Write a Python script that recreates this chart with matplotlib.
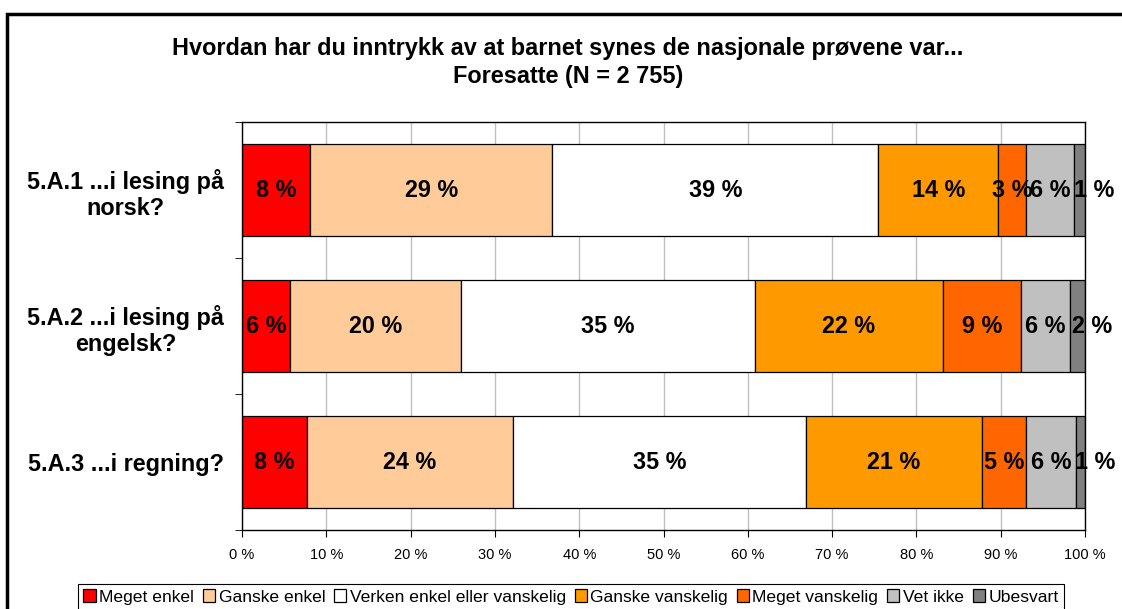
import numpy as np
import matplotlib
matplotlib.use("Agg")
import matplotlib.pyplot as plt
from matplotlib.patches import Rectangle

plt.rcParams['font.family'] = ['Liberation Sans', 'DejaVu Sans']

questions = ["5.A.1 ...i lesing på\nnorsk?", "5.A.2 ...i lesing på\nengelsk?", "5.A.3 ...i regning?"]
answers = ["Meget enkel", "Ganske enkel", "Verken enkel eller vanskelig",
           "Ganske vanskelig", "Meget vanskelig", "Vet ikke", "Ubesvart"]
colors = ["#FF0000", "#FFCC99", "#FFFFFF", "#FF9900", "#FF6600", "#C0C0C0", "#808080"]

# percent per question, one list per answer
meget_enkel = [8.1, 5.7, 7.7]
ganske_enkel = [28.7, 20.3, 24.4]
verken = [38.7, 34.8, 34.8]
ganske_vansk = [14.2, 22.4, 20.9]
meget_vansk = [3.3, 9.2, 5.2]
vet_ikke = [5.7, 5.8, 5.9]
ubesvart = [1.3, 1.8, 1.1]
series = [meget_enkel, ganske_enkel, verken, ganske_vansk, meget_vansk, vet_ikke, ubesvart]

fig = plt.figure(figsize=(11.22, 6.09), dpi=100)
ax = fig.add_axes([242/1122, 1-530/609, (1085-242)/1122, (530-122)/609])

y = np.arange(len(questions))
left = np.zeros(len(questions))
for i, (vals, name, c) in enumerate(zip(series, answers, colors)):
    vals = np.array(vals)
    ax.barh(y, vals, left=left, height=0.67, color=c, edgecolor="black",
            linewidth=0.9, label=name, zorder=2)
    for yi, l, v in zip(y, left, vals):
        xc = l + v/2
        if i == len(series) - 1:
            xc = l + v/2 + 1.7
        ax.text(xc, yi, f"{round(v)} %", ha="center", va="center",
                fontsize=16.8, fontweight="bold", zorder=3)
    left += vals

ax.set_xlim(0, 100)
ax.set_ylim(2.5, -0.5)
ax.set_xticks(np.arange(0, 101, 10))
ax.set_xticklabels([f"{t} %" for t in range(0, 101, 10)], fontsize=10.5)
ax.set_yticks(y)
ax.set_yticklabels(questions, fontsize=16.8, fontweight="bold", multialignment="center")
ax.set_yticks([-0.5, 0.5, 1.5, 2.5], minor=True)
ax.tick_params(axis="y", which="major", length=0, pad=13)
ax.tick_params(axis="y", which="minor", length=5, direction="out")
ax.tick_params(axis="x", length=5, direction="out", pad=8)
ax.xaxis.grid(True, color="#c0c0c0", linewidth=1)
ax.set_axisbelow(True)
for s in ax.spines.values():
    s.set_color("black")
    s.set_linewidth(1)

fig.text(568/1122, 1-48/609, "Hvordan har du inntrykk av at barnet synes de nasjonale prøvene var...",
         ha="center", va="center", fontsize=16.9, fontweight="bold")
fig.text(568/1122, 1-76/609, "Foresatte (N = 2 755)", ha="center", va="center",
         fontsize=16.9, fontweight="bold")

leg = fig.legend(loc="center", bbox_to_anchor=(571/1122, 1-597/609), ncol=7,
                 fontsize=12.6, frameon=True, fancybox=False, framealpha=1,
                 edgecolor="black", handlelength=0.7, handleheight=0.7,
                 handletextpad=0.2, columnspacing=0.5, borderpad=0.3,
                 borderaxespad=0)
leg.get_frame().set_linewidth(0.8)

fig.patches.append(Rectangle((7/1122, -0.1), 1.2, 1-14/609+0.1, transform=fig.transFigure,
                             fill=False, edgecolor="black", linewidth=2.5))

fig.savefig("out.png", dpi=100)
